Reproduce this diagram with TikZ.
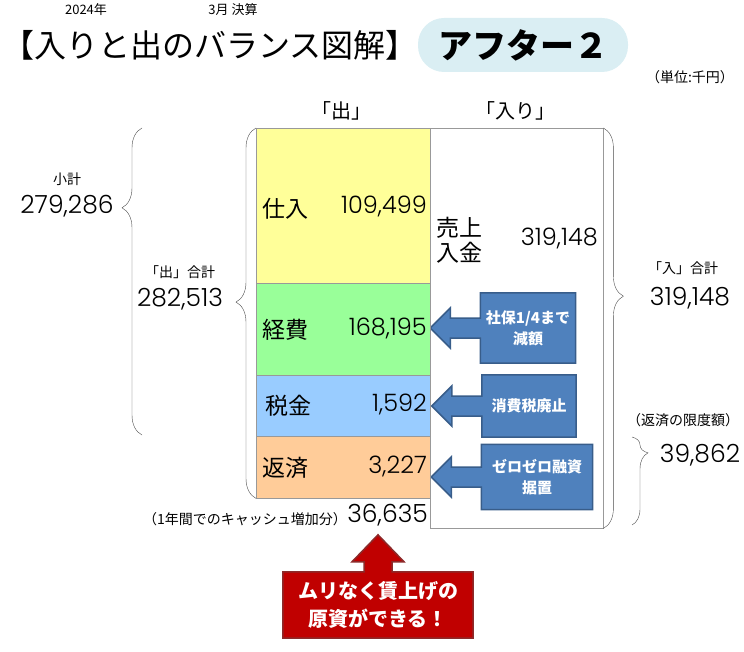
\documentclass[tikz,border=0pt]{standalone}
\usepackage{fontspec}
\setmainfont{Noto Sans CJK JP}
\IfFontExistsTF{Poppins Light}{\newfontfamily\numfont{Poppins Light}}{\newfontfamily\numfont{Poppins}}
\usetikzlibrary{decorations.pathreplacing,calc,backgrounds}
\definecolor{shiirec}{HTML}{FFFF99}
\definecolor{keihic}{HTML}{99FF99}
\definecolor{zeikinc}{HTML}{99CCFF}
\definecolor{hensaic}{HTML}{FFCC99}
\definecolor{pillc}{HTML}{DAEEF3}
\definecolor{calloutc}{HTML}{4F81BD}
\definecolor{calloutb}{HTML}{385D8A}
\definecolor{redc}{HTML}{C00000}
\definecolor{redb}{HTML}{8C2A2A}

\begin{document}
\begin{tikzpicture}[x=1pt,y=-1pt,
    cell/.style={draw=gray!80,anchor=north west,inner sep=0pt},
    lbl/.style={font=\fontsize{23}{27}\selectfont,anchor=west,inner sep=0pt},
    num/.style={font=\numfont\fontsize{24}{26}\selectfont,anchor=east,inner sep=0pt},
    bignum/.style={font=\numfont\fontsize{25}{27}\selectfont,inner sep=0pt},
    small/.style={font=\fontsize{14}{16}\selectfont,inner sep=0pt},
    brc/.style={decorate,decoration={brace,amplitude=20pt,aspect=#1},draw=black!70},
    callout/.style={fill=calloutc,draw=calloutb,line width=1.5pt},
    calltext/.style={text=white,font=\bfseries\fontsize{15}{21}\selectfont,align=center,inner sep=0pt},
    redcall/.style={fill=redc,draw=redb,line width=1.5pt}]
    \useasboundingbox (0,0) rectangle (744,652);

    % title
    \node[small,font=\fontsize{13}{15}\selectfont] (year) at (86,10) {2024年};
    \node[small,font=\fontsize{13}{15}\selectfont] (month) at (233,10) {3月 決算};
    \node[font=\fontsize{32}{34}\selectfont,anchor=west,inner sep=0pt] (title) at (2,45) {【入りと出のバランス図解】};
    \node[fill=pillc,rounded corners=26pt,minimum width=210pt,minimum height=54pt,
        font=\bfseries\fontsize{34}{36}\selectfont] (after) at (523,45) {アフター２};
    \node[small] (unit) at (690,77) {（単位:千円）};

    % columns
    \node[font=\fontsize{20}{22}\selectfont,inner sep=0pt] (dehead) at (341,111) {「出」};
    \node[font=\fontsize{20}{22}\selectfont,inner sep=0pt] (irihead) at (515,111) {「入り」};
    \node[cell,fill=shiirec,minimum width=174pt,minimum height=155pt] (shiire) at (256,128) {};
    \node[cell,fill=keihic,minimum width=174pt,minimum height=92pt] (keihi) at (256,283) {};
    \node[cell,fill=zeikinc,minimum width=174pt,minimum height=61pt] (zeikin) at (256,375) {};
    \node[cell,fill=hensaic,minimum width=174pt,minimum height=62pt] (hensai) at (256,436) {};
    \node[cell,minimum width=173pt,minimum height=400pt] (iri) at (430,128) {};

    \node[lbl] (shiirel) at (262,209) {仕入};
    \node[num] (shiiren) at (427,206) {109,499};
    \node[lbl] (keihil) at (262,330) {経費};
    \node[num] (keihin) at (427,328) {168,195};
    \node[lbl] (zeikinl) at (265,406) {税金};
    \node[num] (zeikinn) at (427,404) {1,592};
    \node[lbl] (hensail) at (262,468) {返済};
    \node[num] (hensain) at (427,466) {3,227};
    \node[lbl,align=left,font=\fontsize{23}{25}\selectfont] (uriagel) at (436,240) {売上\\入金};
    \node[num] (uriagen) at (598,238) {319,148};
    \node[bignum,anchor=east] (cashn) at (428,515) {36,635};
    \node[small,anchor=east] (cashl) at (347,519) {（1年間でのキャッシュ増加分）};

    % braces
    \draw[brc=0.53] (hensai.south west) -- (shiire.north west);
    \draw[brc=0.74] (142,435) -- (142,128);
    \draw[brc=0.42] (iri.north east) -- (iri.south east);
    \draw[brc=0.18,decoration={amplitude=16pt}] (632,437) -- (632,525);
    \node[small] (shokeil) at (67,179) {小計};
    \node[bignum] (shokein) at (67,206) {279,286};
    \node[small] (degokeil) at (180,272) {「出」合計};
    \node[bignum] (degokein) at (180,299) {282,513};
    \node[small] (irigokeil) at (683,268) {「入」合計};
    \node[bignum] (irigokein) at (690,298) {319,148};
    \node[small] (gendol) at (683,420) {（返済の限度額）};
    \node[bignum] (gendon) at (700,455) {39,862};

    % callouts
    \node[minimum width=95pt,minimum height=70pt,calltext] (shaho) at (528,328) {社保1/4まで\\減額};
    \node[minimum width=94pt,minimum height=62pt,calltext] (shohi) at (529,406) {消費税廃止};
    \node[minimum width=111pt,minimum height=65pt,calltext] (zero) at (537,477) {ゼロゼロ融資\\据置};
    \node[minimum width=190pt,minimum height=66pt,text=white,font=\bfseries\fontsize{20}{28}\selectfont,
        align=center,inner sep=0pt] (genshi) at (378,605) {ムリなく賃上げの\\原資ができる！};
    \begin{scope}[on background layer]
        \foreach \c in {shaho,shohi,zero}
            \path[callout] (\c.north west) -- (\c.north east) -- (\c.south east) -- (\c.south west)
                -- ($(\c.west)+(0,10)$) -- ++(-30,0) -- ++(0,10) -- ++(-20,-20) -- ++(20,-20)
                -- ++(0,10) -- ++(30,0) -- cycle;
        \path[redcall] (genshi.south west) -- (genshi.south east) -- (genshi.north east)
            -- ($(genshi.north)+(14,0)$) -- ++(0,-10) -- ++(12,0) -- ++(-26,-27) -- ++(-26,27)
            -- ++(12,0) -- ++(0,10) -- (genshi.north west) -- cycle;
    \end{scope}
\end{tikzpicture}
\end{document}
